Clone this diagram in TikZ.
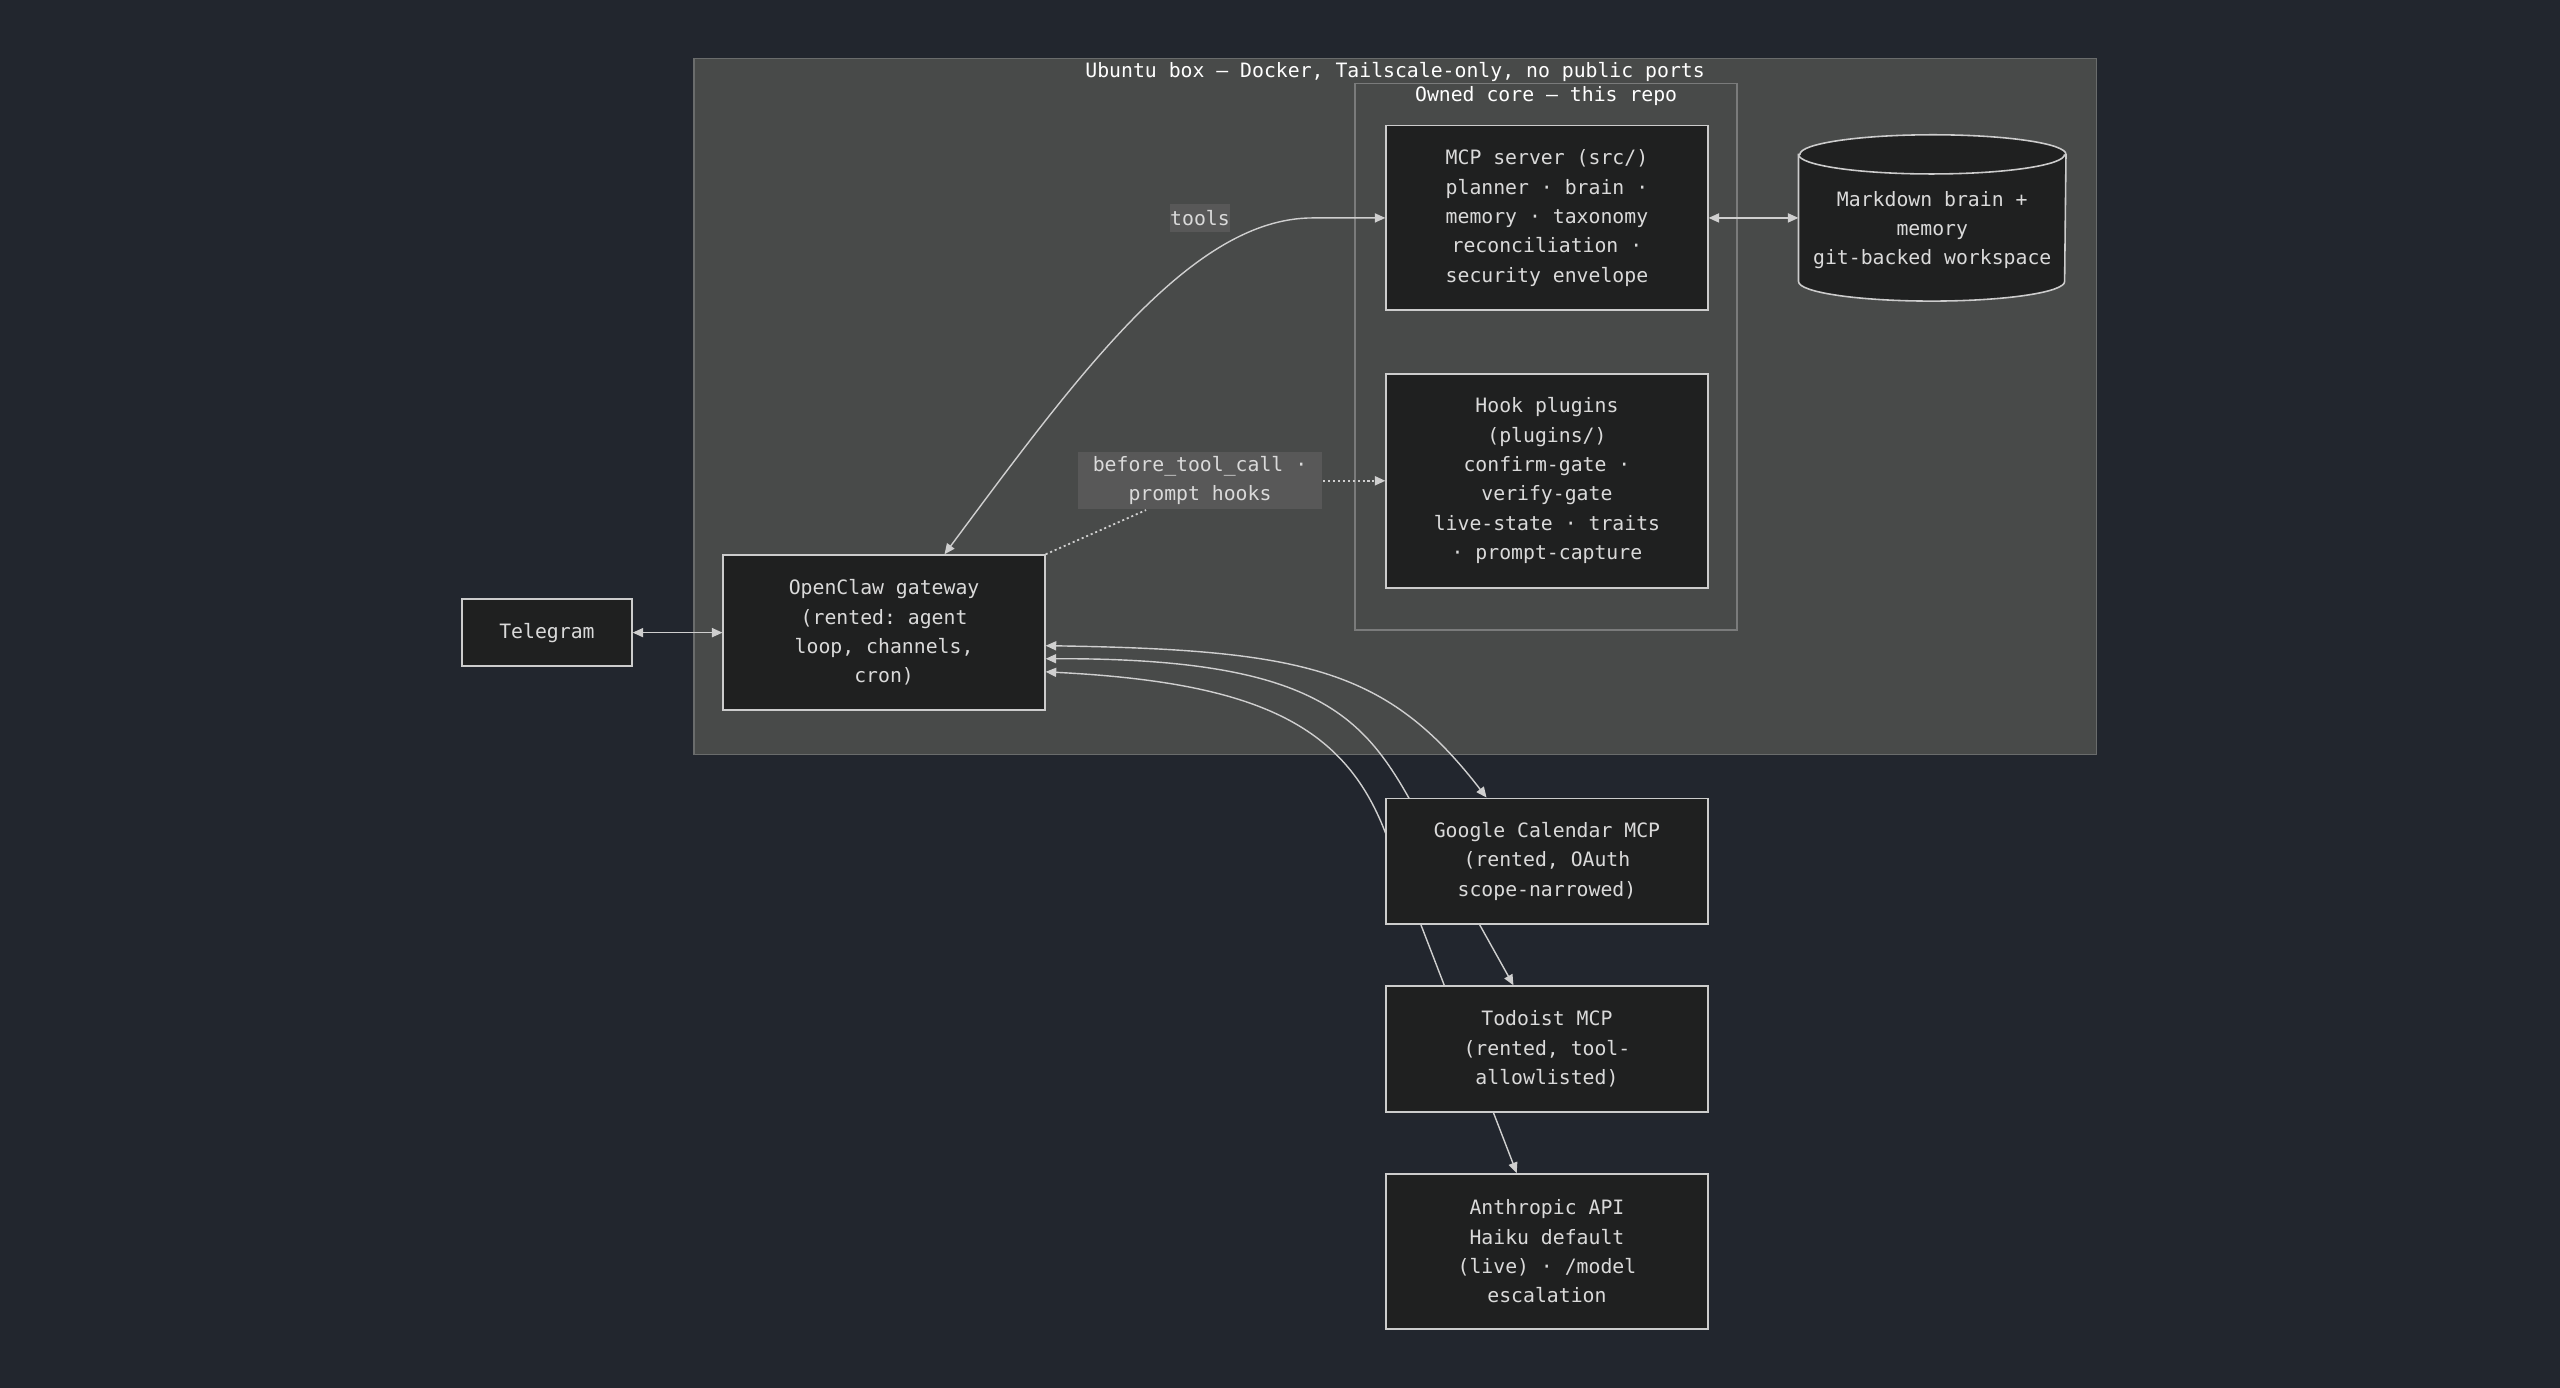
\documentclass[tikz,border=0pt]{standalone}
\usepackage{fontspec}
\setmonofont{DejaVu Sans Mono}
\usepackage{tikz}
\usetikzlibrary{arrows.meta,calc}
\definecolor{canvas}{HTML}{22262E}
\definecolor{hostfill}{HTML}{484A49}
\definecolor{hostline}{HTML}{6A6C6C}
\definecolor{coreline}{HTML}{7A7B7B}
\definecolor{nodefill}{HTML}{1F2020}
\definecolor{nodeline}{HTML}{CCCCCC}
\definecolor{nodetext}{HTML}{DADADA}
\definecolor{edgecol}{HTML}{CFCFCF}
\definecolor{labelbg}{HTML}{585858}
\newcommand\diagfont{\ttfamily\fontsize{5.63}{8.36}\selectfont}
\pgfdeclarelayer{background}
\pgfdeclarelayer{edges}
\pgfsetlayers{background,edges,main}

\begin{document}
\begin{tikzpicture}[x=0.016327cm, y=0.016327cm,
    >={Triangle[length=3pt,width=2.6pt]},
    box/.style={draw=nodeline, fill=nodefill, line width=0.45pt, text=nodetext, font=\diagfont, align=center, minimum width=3.216cm, inner sep=0pt},
    group/.style={fill=hostfill, draw=hostline, line width=0.4pt},
    grouptitle/.style={text=white, font=\diagfont, inner sep=0pt},
    link/.style={draw=edgecol, line width=0.4pt},
    hooklink/.style={draw=edgecol, line width=0.5pt, dash pattern=on 0.6pt off 0.8pt},
    edgelabel/.style={fill=labelbg, text=nodetext, font=\diagfont, align=center, inner sep=0pt}]
    \useasboundingbox (0,0) rectangle (1568,850);
    \begin{pgfonlayer}{background}
        \fill[canvas] (0,0) rectangle (1568,850);
        \draw[group] (425,388) rectangle (1284,814);
        \draw[draw=coreline, line width=0.4pt] (830,464) rectangle (1064,799);
    \end{pgfonlayer}
    \node[grouptitle] (hosttitle) at (854.5,806) {Ubuntu box — Docker, Tailscale-only, no public ports};
    \node[grouptitle] (coretitle) at (947,791) {Owned core — this repo};

    \node[box, minimum width=1.698cm, minimum height=0.669cm] (tg) at (335,462.5) {Telegram};
    \node[box, minimum height=1.551cm] (gw) at (541.5,462.5) {OpenClaw gateway\\(rented: agent\\loop, channels,\\cron)};
    \node[box, minimum height=1.845cm] (mcp) at (947.5,716.5) {MCP server (src/)\\planner · brain ·\\memory · taxonomy\\reconciliation ·\\security envelope};
    \node[box, minimum height=2.139cm] (hooks) at (947.5,555.5) {Hook plugins\\(plugins/)\\confirm-gate ·\\verify-gate\\live-state · traits\\· prompt-capture};
    \node[box, minimum height=1.257cm] (gcal) at (947.5,322.5) {Google Calendar MCP\\(rented, OAuth\\scope-narrowed)};
    \node[box, minimum height=1.257cm] (todo) at (947.5,207.5) {Todoist MCP\\(rented, tool-\\allowlisted)};
    \node[box, minimum height=1.551cm] (llm) at (947.5,83.5) {Anthropic API\\Haiku default\\(live) · /model\\escalation};

    \node[minimum width=2.661cm, minimum height=1.649cm, inner sep=0pt] (brain) at (1183.5,716.5) {};
    \filldraw[draw=nodeline, fill=nodefill, line width=0.45pt] ($(brain.north west)+(0,-12)$) -- ($(brain.south west)+(0,12)$)
        arc[start angle=180, end angle=360, x radius=81.5, y radius=12] -- ($(brain.north east)+(0,-12)$)
        arc[start angle=0, end angle=180, x radius=81.5, y radius=12] -- cycle;
    \draw[draw=nodeline, line width=0.45pt] ($(brain.north west)+(0,-12)$) arc[start angle=180, end angle=360, x radius=81.5, y radius=12];
    \node[text=nodetext, font=\diagfont, align=center, inner sep=0pt] (braintext) at (1183.5,709) {Markdown brain +\\memory\\git-backed workspace};

    \node[edgelabel, minimum width=0.588cm, minimum height=0.278cm] (toolslabel) at (735,716.5) {tools};
    \node[edgelabel, minimum width=2.449cm, minimum height=0.571cm] (hookslabel) at (735,555.5) {before\_tool\_call ·\\prompt hooks};

    \begin{pgfonlayer}{edges}
        \draw[link, <->] (tg.east) -- (gw.west);
        \draw[link, <->] (mcp.east) -- (brain.west);
        \draw[link, <->] ($(gw.north)+(37,0)$) .. controls (660,620) and (730,716.5) .. (804,716.5) -- (mcp.west);
        \draw[hooklink] (gw.north east) -- ($(hookslabel.south)+(-33,0)$);
        \draw[hooklink, ->] (hookslabel.east) -- (hooks.west);
        \draw[link, <->] ($(gw.east)+(0,-8)$) .. controls (800,452) and (850,440) .. ($(gcal.north)+(-37,0)$);
        \draw[link, <->] ($(gw.east)+(0,-16)$) .. controls (800,447) and (833,414) .. (862.5,362) -- ($(todo.north)+(-20.5,0)$);
        \draw[link, <->] ($(gw.east)+(0,-24)$) .. controls (770,432) and (823,406) .. (848.3,340.6) -- ($(llm.north)+(-18.5,0)$);
    \end{pgfonlayer}
\end{tikzpicture}
\end{document}
